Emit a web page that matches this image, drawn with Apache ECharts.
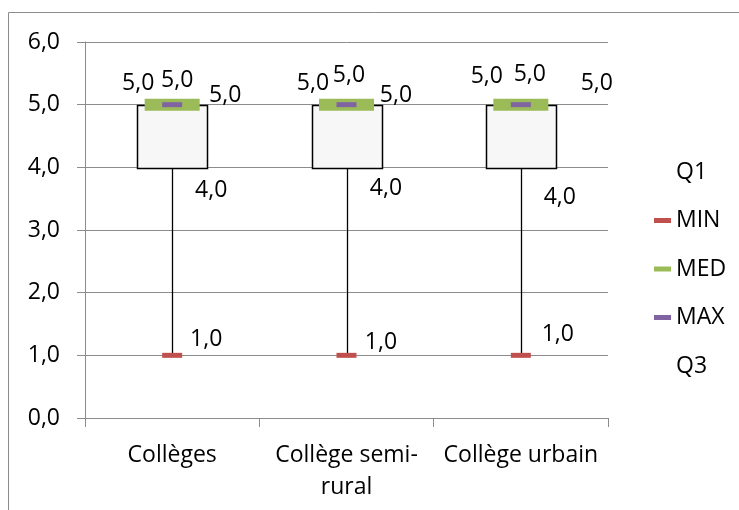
<!DOCTYPE html>
<html><head><meta charset="utf-8">
<script src="https://cdn.jsdelivr.net/npm/echarts@6/dist/echarts.min.js"></script>
<style>html,body{margin:0;padding:0;background:#fff}#c{width:739px;height:510px}</style>
</head><body><div id="c"></div>
<script>
const categories = ['Collèges', 'Collège semi-\nrural', 'Collège urbain'];
const q1Values = [4, 4, 4];
const minValues = [1, 1, 1];
const medValues = [5, 5, 5];
const maxValues = [5, 5, 5];
const q3Values = [5, 5, 5];

// label offsets (styling only, px)
const labelOffsets = {
  Q1: [[39, 23], [39.5, 21], [39, 30]],
  MIN: [[34, -16], [34.5, -13], [37, -21]],
  MED: [[5, -24], [2.5, -29], [9, -30]],
  MAX: [[-34, -21], [-33.5, -21], [-34, -28]],
  Q3: [[53, -9], [49.5, -9], [76, -21]]
};

const FONT = 'Open Sans';
const FS = 23;
const fmt = v => Number(v).toFixed(1).replace('.', ',');
const GRID_COLOR = '#8c8c8c';

function markerSeries(name, values, color, size, z) {
  return {
    name: name,
    type: 'scatter',
    z: z,
    silent: true,
    symbol: 'rect',
    symbolSize: size,
    itemStyle: { color: color, opacity: 1 },
    data: values.map((v, i) => ({
      value: [i, v],
      label: { offset: labelOffsets[name][i] }
    })),
    label: {
      show: true,
      position: 'inside',
      align: 'center',
      verticalAlign: 'middle',
      fontFamily: FONT,
      fontSize: FS,
      color: '#000',
      formatter: p => fmt(p.value[1])
    },
    emphasis: { disabled: true }
  };
}

const boxData = categories.map((c, i) => [i, minValues[i], q1Values[i], q3Values[i]]);

const chart = echarts.init(document.getElementById('c'), null, { renderer: 'canvas' });
chart.setOption({
  animation: false,
  backgroundColor: '#fff',
  textStyle: { fontFamily: FONT },
  grid: { left: 85, right: 131, top: 42, bottom: 92, containLabel: false },
  graphic: [{
    type: 'polyline',
    shape: { points: [[8.5, 530], [8.5, 12.5], [760, 12.5]] },
    style: { stroke: GRID_COLOR, lineWidth: 1, fill: null },
    silent: true
  }],
  legend: {
    orient: 'vertical',
    left: 649,
    top: 155,
    icon: 'rect',
    itemWidth: 17,
    itemHeight: 5,
    itemGap: 24.5,
    selectedMode: false,
    textStyle: { fontFamily: FONT, fontSize: FS, color: '#000', lineHeight: 24 },
    data: [
      { name: 'Q1', itemStyle: { opacity: 0 } },
      'MIN', 'MED', 'MAX',
      { name: 'Q3', itemStyle: { opacity: 0 } }
    ]
  },
  xAxis: {
    type: 'category',
    data: categories,
    boundaryGap: true,
    axisLine: { show: true, lineStyle: { color: GRID_COLOR, width: 1 } },
    axisTick: { show: true, length: 9, inside: false, alignWithLabel: false, lineStyle: { color: GRID_COLOR } },
    axisLabel: { interval: 0, fontFamily: FONT, fontSize: FS, color: '#000', margin: 21, lineHeight: 32 },
    splitLine: { show: false }
  },
  yAxis: {
    type: 'value',
    min: 0,
    max: 6,
    interval: 1,
    axisLine: { show: true, lineStyle: { color: GRID_COLOR, width: 1 } },
    axisTick: { show: true, length: 8, lineStyle: { color: GRID_COLOR } },
    axisLabel: { fontFamily: FONT, fontSize: FS, color: '#000', margin: 25, formatter: v => fmt(v) },
    splitLine: { show: true, lineStyle: { color: GRID_COLOR, width: 1 } }
  },
  series: [
    {
      name: 'box',
      type: 'custom',
      z: 2,
      silent: true,
      data: boxData,
      renderItem: function (params, api) {
        const x = api.value(0);
        const lo = api.coord([x, api.value(1)]);
        const b = api.coord([x, api.value(2)]);
        const t = api.coord([x, api.value(3)]);
        const w = api.size([1, 0])[0] * 0.4;
        const cx = Math.round(b[0]) + 0.5;
        return {
          type: 'group',
          children: [
            { type: 'line', shape: { x1: cx, y1: lo[1], x2: cx, y2: b[1] }, style: { stroke: '#000', lineWidth: 1.3 } },
            { type: 'rect', shape: { x: Math.round(t[0] - w / 2) + 0.5, y: Math.round(t[1]) + 0.5, width: Math.round(w), height: Math.round(b[1] - t[1]) }, style: { fill: '#f7f7f7', stroke: '#000', lineWidth: 1.5 } }
          ]
        };
      }
    },
    markerSeries('Q1', q1Values, 'rgba(0,0,0,0)', 1, 3),
    markerSeries('MIN', minValues, '#c0504d', [20, 5], 4),
    markerSeries('MED', medValues, '#9bbb59', [55, 12], 4),
    markerSeries('MAX', maxValues, '#8064a2', [20, 5], 5),
    markerSeries('Q3', q3Values, 'rgba(0,0,0,0)', 1, 3)
  ]
});
</script>
</body></html>
